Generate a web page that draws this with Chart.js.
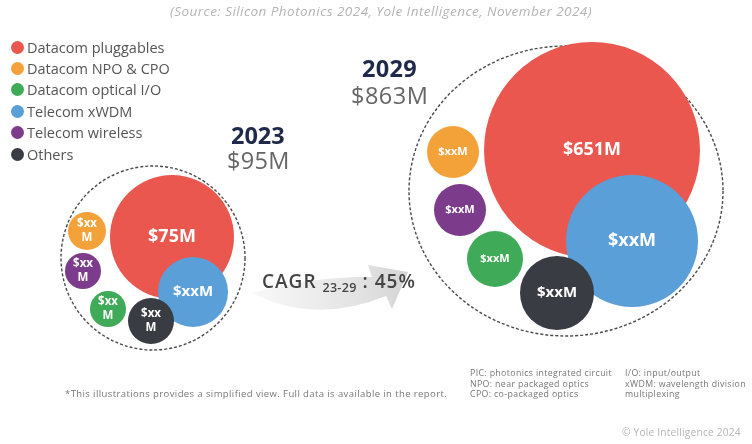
<!DOCTYPE html>
<html lang="en">
<head>
<meta charset="UTF-8">
<title>Silicon Photonics market 2023-2029</title>
<script src="https://cdn.jsdelivr.net/npm/chart.js"></script>
<style>
  html, body { margin: 0; padding: 0; background: #fff; }
  #wrap { position: relative; width: 752px; height: 444px; overflow: hidden; font-family: 'Open Sans', sans-serif; }
  #wrap canvas { position: absolute; left: -120px; top: -120px; }
  .t { position: absolute; white-space: nowrap; line-height: 1; }
  .legend-row { position: absolute; left: 11px; height: 16px; display: flex; align-items: center; font-size: 14.5px; color: #555; }
  .legend-row span.dot { width: 13px; height: 13px; border-radius: 50%; margin-right: 3px; display: inline-block; }
</style>
</head>
<body>
<div id="wrap">
  <canvas id="bubbles" width="992" height="684"></canvas>
  <div class="t" style="left:0;width:762px;text-align:center;top:5px;font-size:13.5px;letter-spacing:0.45px;font-style:italic;color:#b4b4b4;">(Source: Silicon Photonics 2024, Yole Intelligence, November 2024)</div>
  <div id="legend"></div>
  <div class="t" style="left:231px;top:124px;font-size:23.5px;font-weight:700;color:#1f2a4a;">2023</div>
  <div class="t" style="left:227px;top:149px;font-size:23.5px;color:#666;letter-spacing:0.3px;">$95M</div>
  <div class="t" style="left:362px;top:57px;font-size:23.5px;font-weight:700;color:#1f2a4a;letter-spacing:0.3px;">2029</div>
  <div class="t" style="left:351px;top:84px;font-size:23.5px;color:#666;letter-spacing:0.5px;">$863M</div>
  <div class="t" style="left:262px;top:272px;font-size:19px;font-weight:600;color:#444;letter-spacing:1px;">CAGR <sub style="font-size:12.5px;vertical-align:-4px;letter-spacing:0.3px;">23-29</sub> : 45%</div>
  <div class="t" style="left:65px;top:389px;font-size:9.5px;letter-spacing:0.4px;color:#777;">*This illustrations provides a simplified view. Full data is available in the report.</div>
  <div class="t" style="left:470px;top:368px;font-size:8.8px;letter-spacing:0.35px;color:#777;line-height:10.5px;">PIC: photonics integrated circuit<br>NPO: near packaged optics<br>CPO: co-packaged optics</div>
  <div class="t" style="left:625px;top:368px;font-size:8.8px;letter-spacing:0.35px;color:#777;line-height:10.5px;">I/O: input/output<br>xWDM: wavelength division<br>multiplexing</div>
  <div class="t" style="left:622px;top:427px;font-size:10.2px;letter-spacing:0.2px;color:#b4b4b4;">© Yole Intelligence 2024</div>
</div>
<script>
// segments (legend order)
const categories = ['Datacom pluggables', 'Datacom NPO & CPO', 'Datacom optical I/O', 'Telecom xWDM', 'Telecom wireless', 'Others'];
const colors = ['#e9574f', '#f3a23a', '#3fab58', '#5b9fd8', '#7c3b8b', '#393c42'];
const years = ['2023', '2029'];
const totals = [95, 863];            // $M
const pluggables = [75, 651];        // $M, the only segment values given
// labels shown in the bubbles (the others are masked as "$xx M" in the source)
const labels2023 = ['$75M', '$xx\nM', '$xx\nM', '$xxM', '$xx\nM', '$xx\nM'];
const labels2029 = ['$651M', '$xxM', '$xxM', '$xxM', '$xxM', '$xxM'];

// bubble layout (x, y in layout units, r = bubble radius)
const x2023 = [172, 87, 108, 193, 83, 151];
const y2023 = [237, 231, 309, 292, 271, 321];
const r2023 = [62, 19, 18, 35, 18, 23];
const x2029 = [592, 453, 495, 632, 460, 557];
const y2029 = [150, 152, 259, 241, 210, 293];
const r2029 = [108, 26, 28, 66, 26, 37];
// dashed year envelopes: cx, cy, rx, ry
const envelopes = [[153, 258, 92, 92], [566, 191, 157, 145]];
// draw order: big ones underneath
const drawOrder = [6, 2, 3, 5, 4, 1];
const OFFSET = 120; // canvas is larger than the view by this margin on each side

// html legend
const legendEl = document.getElementById('legend');
categories.forEach((c, i) => {
  const row = document.createElement('div');
  row.className = 'legend-row';
  row.style.top = (39 + i * 21.4) + 'px';
  row.innerHTML = '<span class="dot" style="background:' + colors[i] + '"></span>' + c;
  legendEl.appendChild(row);
});

const datasets = categories.map((c, i) => ({
  label: c,
  data: [
    { x: x2023[i], y: y2023[i], r: r2023[i], lbl: labels2023[i] },
    { x: x2029[i], y: y2029[i], r: r2029[i], lbl: labels2029[i] }
  ],
  backgroundColor: colors[i],
  borderColor: colors[i],
  borderWidth: 0,
  hoverRadius: 0,
  order: drawOrder[i]
}));

const decor = {
  id: 'decor',
  beforeDatasetsDraw(chart) {
    const ctx = chart.ctx, xs = chart.scales.x, ys = chart.scales.y;
    ctx.save();
    // CAGR swoosh arrow
    const p = (x, y) => [xs.getPixelForValue(x), ys.getPixelForValue(y)];
    const g = ctx.createLinearGradient(p(255, 0)[0], 0, p(410, 0)[0], 0);
    g.addColorStop(0, 'rgba(225,225,225,0.25)');
    g.addColorStop(1, 'rgba(212,212,212,1)');
    ctx.fillStyle = g;
    ctx.beginPath();
    ctx.moveTo(...p(252, 293));
    ctx.quadraticCurveTo(...p(315, 276), ...p(372, 277));
    ctx.lineTo(...p(368, 265));
    ctx.lineTo(...p(408, 272));
    ctx.lineTo(...p(392, 309));
    ctx.lineTo(...p(386, 296));
    ctx.quadraticCurveTo(...p(315, 325), ...p(252, 293));
    ctx.closePath();
    ctx.fill();
    // dashed envelopes
    ctx.strokeStyle = '#4a4a4a';
    ctx.lineWidth = 1.4;
    ctx.setLineDash([3, 2]);
    envelopes.forEach(e => {
      const c = p(e[0], e[1]);
      const rx = Math.abs(xs.getPixelForValue(e[0] + e[2]) - c[0]);
      const ry = Math.abs(ys.getPixelForValue(e[1] + e[3]) - c[1]);
      ctx.beginPath();
      ctx.ellipse(c[0], c[1], rx, ry, 0, 0, Math.PI * 2);
      ctx.stroke();
    });
    ctx.restore();
  },
  afterDatasetsDraw(chart) {
    const ctx = chart.ctx;
    ctx.save();
    ctx.fillStyle = '#fff';
    ctx.textAlign = 'center';
    ctx.textBaseline = 'middle';
    chart.data.datasets.forEach((ds, di) => {
      chart.getDatasetMeta(di).data.forEach((el, j) => {
        const raw = ds.data[j];
        const lines = raw.lbl.split('\n');
        let size = raw.r > 60 ? 18 : raw.r > 30 ? 15 : 11;
        if (lines.length > 1) size = 11.5;
        ctx.font = '700 ' + size + 'px "Open Sans", sans-serif';
        const lh = size * 1.25;
        lines.forEach((t, k) => {
          ctx.fillText(t, el.x, el.y + (k - (lines.length - 1) / 2) * lh);
        });
      });
    });
    ctx.restore();
  }
};

const chart = new Chart(document.getElementById('bubbles'), {
  type: 'bubble',
  data: { datasets },
  options: {
    responsive: false,
    animation: false,
    layout: { padding: 0 },
    scales: {
      x: { type: 'linear', min: 0, max: 752, display: false },
      y: { type: 'linear', min: 0, max: 444, reverse: true, display: false }
    },
    plugins: { legend: { display: false }, tooltip: { enabled: false } },
    events: [],
    clip: false
  },
  plugins: [decor]
});

// bubble charts pad the chart area by the largest radius; align the scales
// with that area so one layout unit maps to one pixel of the visible view
const area = chart.chartArea;
chart.options.scales.x.min = area.left - OFFSET;
chart.options.scales.x.max = area.right - OFFSET;
chart.options.scales.y.min = area.top - OFFSET;
chart.options.scales.y.max = area.bottom - OFFSET;
chart.update();
</script>
</body>
</html>
